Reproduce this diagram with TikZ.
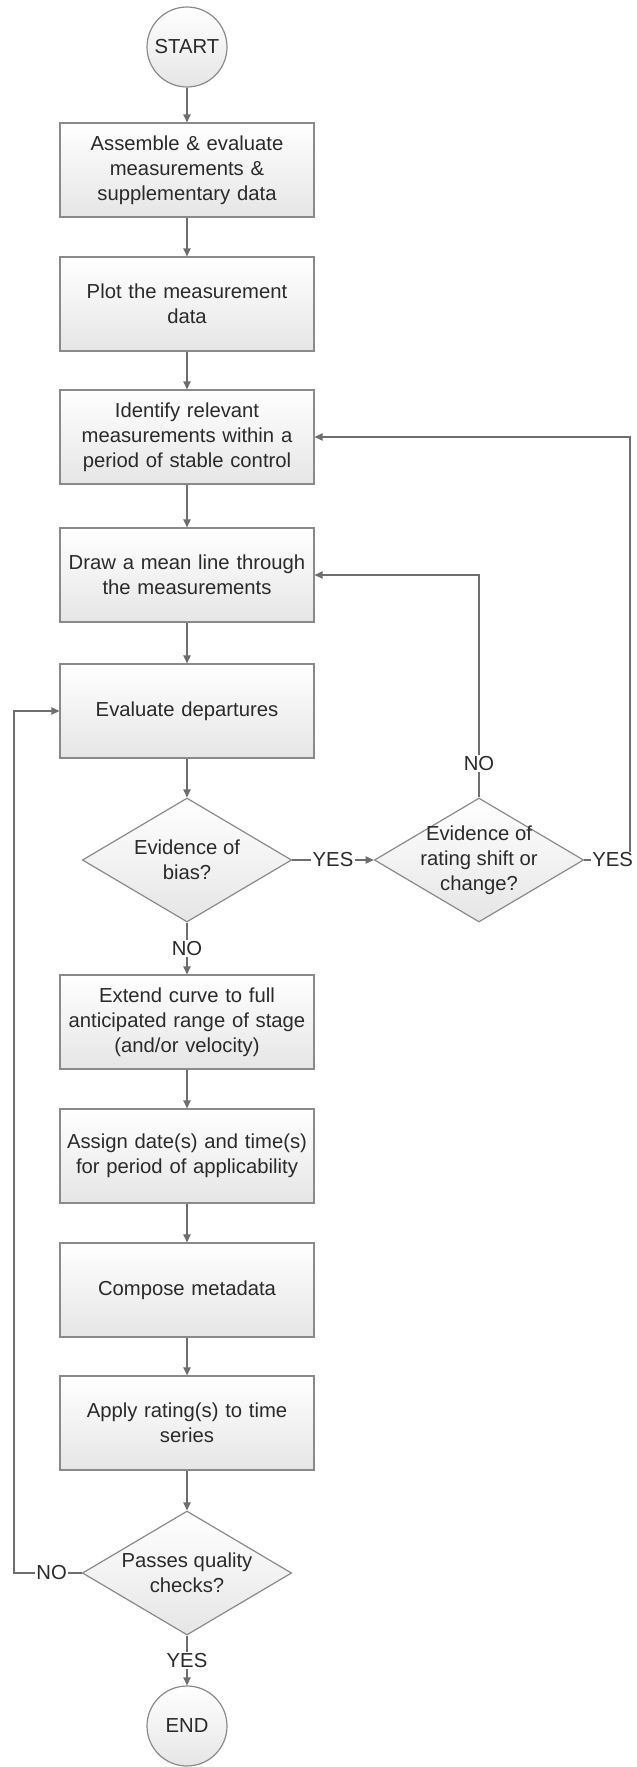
\documentclass[tikz,border=0pt]{standalone}
\usepackage{fontspec}
\setmainfont{Liberation Sans}
\usetikzlibrary{shapes.geometric,arrows.meta,shadows}
\definecolor{rim}{HTML}{8A8A8A}
\definecolor{wire}{HTML}{6E6E6E}
\definecolor{ink}{HTML}{2A2A2A}
\tikzstyle{proc} = [rectangle, draw=rim, line width=0.9pt, top color=white, bottom color=black!10,
  minimum width=190.5pt, minimum height=70.5pt, text width=186pt, align=center, inner sep=0pt,
  text=ink, drop shadow={shadow xshift=0.9pt, shadow yshift=-0.9pt, opacity=0.25}]
\tikzstyle{term} = [circle, draw=rim, line width=0.9pt, top color=white, bottom color=black!10,
  minimum size=60pt, inner sep=0pt, text=ink]
\tikzstyle{decide} = [diamond, draw=rim, line width=0.9pt, top color=white, bottom color=black!10,
  minimum width=157pt, minimum height=93pt, inner sep=0pt]
\tikzstyle{tag} = [fill=white, inner sep=1pt, text=ink]

\begin{document}
\begin{tikzpicture}[x=0.75pt, y=-0.75pt, font=\fontsize{15.2}{18.75}\selectfont,
  >={Triangle[length=6pt,width=5.5pt]}, color=wire, line width=0.9pt]
  \useasboundingbox (0,0) rectangle (636,1767);
  \node (start) at (187,47) [term] {START};
  \node (b1) at (187,170) [proc] {Assemble \& evaluate\\measurements \&\\supplementary data};
  \node (b2) at (187,304) [proc] {Plot the measurement\\data};
  \node (b3) at (187,437) [proc] {Identify relevant\\measurements within a\\period of stable control};
  \node (b4) at (187,575) [proc] {Draw a mean line through\\the measurements};
  \node (b5) at (187,711) [proc] {Evaluate departures};
  \node (dBias) at (187,860) [decide, label={[align=center, text=ink]center:Evidence of\\bias?}] {};
  \node (dShift) at (479,860) [decide, label={[align=center, text=ink]center:Evidence of\\rating shift or\\change?}] {};
  \node (b6) at (187,1022) [proc] {Extend curve to full\\anticipated range of stage\\(and/or velocity)};
  \node (b7) at (187,1156) [proc] {Assign date(s) and time(s)\\for period of applicability};
  \node (b8) at (187,1290) [proc] {Compose metadata};
  \node (b9) at (187,1423) [proc] {Apply rating(s) to time\\series};
  \node (dPass) at (187,1573) [decide, label={[align=center, text=ink]center:Passes quality\\checks?}] {};
  \node (end) at (187,1726) [term] {END};
  \coordinate (yesR) at (630,860);
  \coordinate (noL) at (14,1573);
  \draw [->] (start) -- (b1);
  \draw [->] (b1) -- (b2);
  \draw [->] (b2) -- (b3);
  \draw [->] (b3) -- (b4);
  \draw [->] (b4) -- (b5);
  \draw [->] (b5) -- (dBias);
  \draw [->] (dBias) -- node [tag] {YES} (dShift);
  \draw [->] (dBias) -- node [tag] {NO} (b6);
  \draw [->] (dShift.north) |- node [tag, pos=0.076] {NO} (b4.east);
  \draw [->] (dShift.east) -- node [tag, pos=0.62] {YES} (yesR) |- (b3.east);
  \draw [->] (b6) -- (b7);
  \draw [->] (b7) -- (b8);
  \draw [->] (b8) -- (b9);
  \draw [->] (b9) -- (dPass);
  \draw [->] (dPass.west) -- node [tag, pos=0.445] {NO} (noL) |- (b5.west);
  \draw [->] (dPass) -- node [tag] {YES} (end);
\end{tikzpicture}
\end{document}
